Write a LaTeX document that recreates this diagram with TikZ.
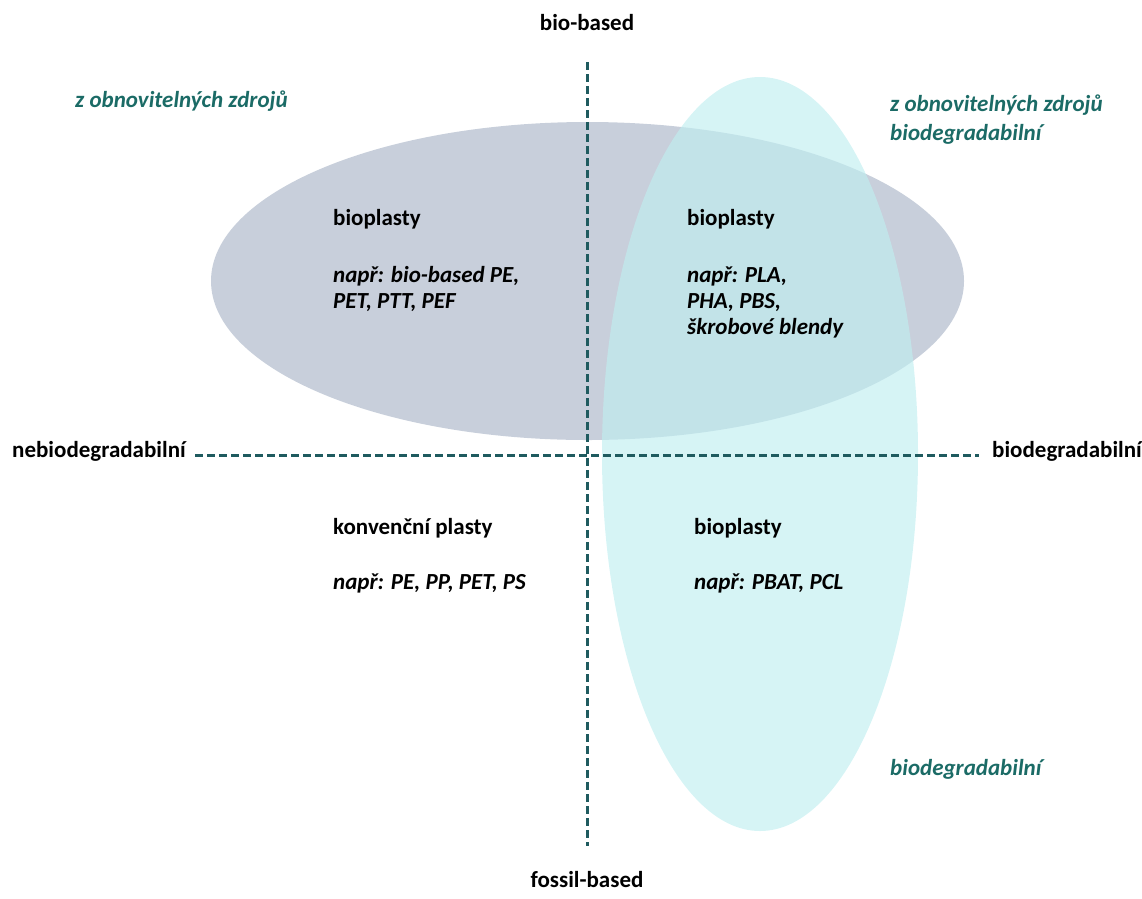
\documentclass[tikz,border=0pt]{standalone}
\usepackage{fontspec}
\setmainfont{Carlito}
\definecolor{grayfill}{RGB}{200,207,219}
\definecolor{cyanbase}{RGB}{192,238,240}
\definecolor{dashteal}{RGB}{31,91,95}
\definecolor{labelteal}{RGB}{27,107,102}
\begin{document}
\begin{tikzpicture}[x=1pt,y=-1pt,
  txt/.style={inner sep=0pt,font=\fontsize{23}{27}\selectfont\bfseries,text height=0.72em,text depth=0.22em},
  ittxt/.style={txt,font=\fontsize{23}{27}\selectfont\bfseries\itshape},
  teal/.style={ittxt,text=labelteal},
  axis/.style={draw=dashteal,line width=3pt,dash pattern=on 8pt off 4pt}]
\useasboundingbox (0,0) rectangle (1142,898);
% ellipses
\fill[grayfill] (587.5,281) ellipse [x radius=376.5,y radius=159];
\fill[cyanbase,fill opacity=0.65] (760,454) ellipse [x radius=158,y radius=377];
% axis labels
\node[txt] (bb) at (587,28) {bio-based};
\node[txt] (fb) at (587,885) {fossil-based};
\node[txt,anchor=west] (nb) at (12,455) {nebiodegradabilní};
\node[txt,anchor=west] (bd) at (992,455) {biodegradabilní};
% axis end points
\coordinate (vt) at (587,62);
\coordinate (vb) at (587,846);
\coordinate (hl) at (195,455);
\coordinate (hr) at (979,455);
\draw[axis] (vt) -- (vb);
\draw[axis] (hl) -- (hr);
% teal labels
\node[teal,anchor=west] (zl) at (75,105) {z obnovitelných zdrojů};
\node[teal,anchor=west] (zr1) at (890,109) {z obnovitelných zdrojů};
\node[teal,anchor=west] (zr2) at (890,138) {biodegradabilní};
\node[teal,anchor=west] (bdr) at (890,773) {biodegradabilní};
% top-left
\node[txt,anchor=west] (tl1) at (333,223) {bioplasty};
\node[ittxt,anchor=west] (tl2) at (333,280) {např: bio-based PE,};
\node[ittxt,anchor=west] (tl3) at (333,306) {PET, PTT, PEF};
% top-right
\node[txt,anchor=west] (tr1) at (687,223) {bioplasty};
\node[ittxt,anchor=west] (tr2) at (687,280) {např: PLA,};
\node[ittxt,anchor=west] (tr3) at (687,306) {PHA, PBS,};
\node[ittxt,anchor=west] (tr4) at (687,332) {škrobové blendy};
% bottom-left
\node[txt,anchor=west] (bl1) at (333,532) {konvenční plasty};
\node[ittxt,anchor=west] (bl2) at (333,587) {např: PE, PP, PET, PS};
% bottom-right
\node[txt,anchor=west] (br1) at (694,532) {bioplasty};
\node[ittxt,anchor=west] (br2) at (694,587) {např: PBAT, PCL};
\end{tikzpicture}
\end{document}
